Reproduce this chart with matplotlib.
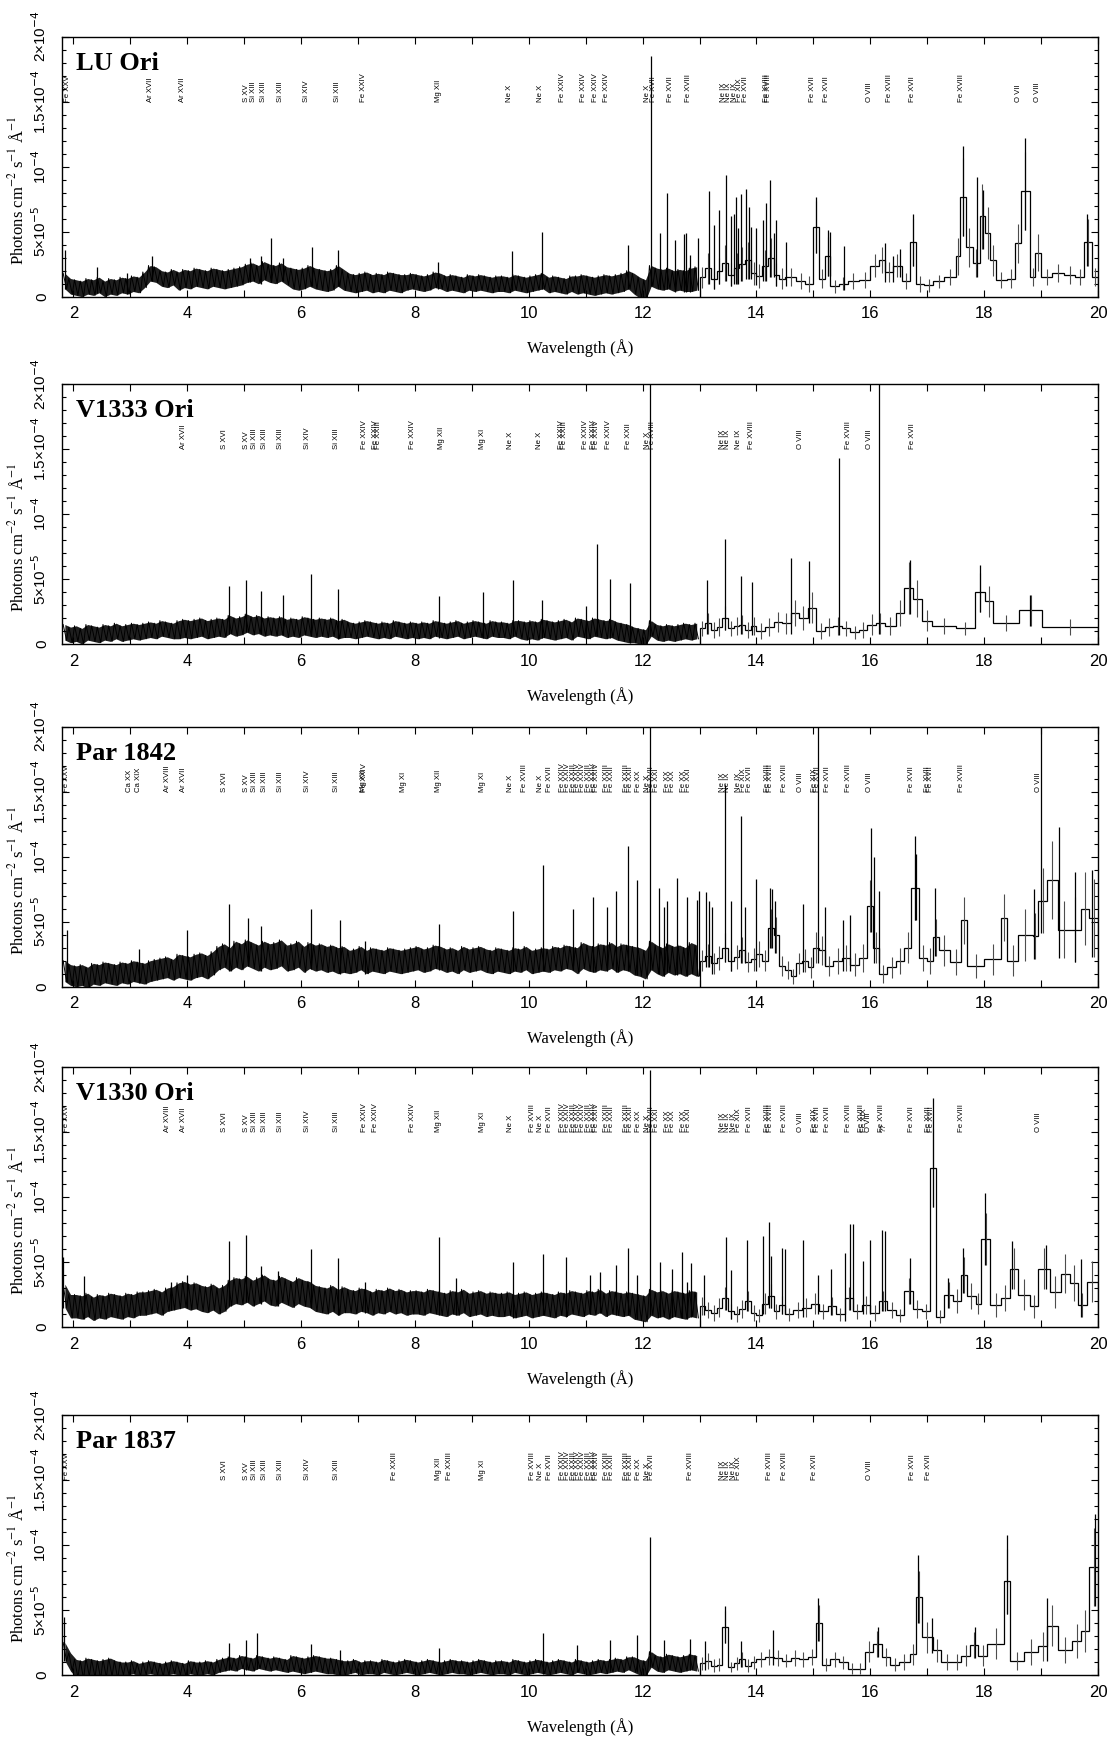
import numpy as np
import matplotlib
matplotlib.use('Agg')
import matplotlib.pyplot as plt
from matplotlib.ticker import MultipleLocator, FixedLocator, FixedFormatter

# ---------------------------------------------------------------
# spectra, flux in units of 1e-6 photons cm-2 s-1 A-1
# dense part: 0.1 A bins from 1.8 to 13.0 A (112 bins)
# err given per 1 A segment of the dense part
# wide part: variable bins from 13.0 to 20.0 A
# ---------------------------------------------------------------
dense_edges = np.round(np.arange(1.8, 13.05, 0.1), 2)

# LU Ori
lu_dense = [12, 8,
            7, 6, 8, 7, 9, 6, 8, 7, 9, 8, 10, 9,
            13, 18, 17,
            14, 13, 15, 12, 14, 13, 15, 14, 13, 15, 14, 13, 14, 15, 16,
            18, 19, 17, 20, 18, 17, 19, 16,
            14, 13, 14,
            16, 14,
            13, 12, 13,
            16, 13,
            11, 10, 11, 12, 10, 11, 10, 12, 11, 10, 11, 12, 11, 10, 11,
            13, 12,
            10, 11, 10, 9, 11, 10, 11, 10, 9, 10,
            10, 9, 11, 10, 9, 10, 11, 12,
            9, 10, 9, 8, 10, 9, 10, 9, 8, 9, 10, 9, 10, 11,
            13, 10, 7,
            5, 16, 14, 13, 14, 12, 13, 12, 13, 14]
lu_dense_err = [6, 6, 7, 7, 8, 7, 6, 6, 6, 7, 8, 9]
lu_edges = [13.0, 13.1, 13.2, 13.3, 13.4, 13.5, 13.6, 13.7, 13.8, 13.9,
            14.0, 14.1, 14.2, 14.3, 14.4, 14.5, 14.7, 14.85,
            15.0, 15.1, 15.2, 15.3, 15.45, 15.6, 15.8,
            16.0, 16.15, 16.25, 16.4, 16.55, 16.7, 16.8, 16.95,
            17.1, 17.3, 17.5, 17.58, 17.68, 17.8, 17.92,
            18.02, 18.1, 18.2, 18.4, 18.55, 18.65, 18.8, 18.9,
            19.0, 19.2, 19.4, 19.6, 19.75, 19.9, 20.0]
lu_flux = [15, 22, 14, 20, 26, 17, 22, 25, 28, 18,
           16, 24, 30, 17, 14, 15, 12, 10,
           54, 14, 31, 8, 10, 12, 13,
           24, 28, 19, 24, 12, 42, 10, 9,
           12, 15, 31, 77, 38, 26, 62,
           49, 28, 13, 14, 41, 81, 15, 34,
           15, 18, 17, 15, 42, 15]
lu_err = [8, 12, 8, 10, 14, 9, 12, 13, 14, 9,
          9, 12, 15, 9, 8, 7, 6, 6,
          20, 7, 15, 5, 5, 6, 6,
          9, 10, 8, 9, 6, 18, 6, 5,
          5, 6, 14, 30, 15, 11, 25,
          20, 12, 6, 7, 15, 30, 7, 14,
          6, 7, 7, 6, 18, 7]
lu_spikes = [(1.86, 36), (2.41, 23), (2.95, 18), (3.38, 31), (5.1, 30),
             (5.3, 31), (5.47, 45), (5.68, 30), (6.19, 38), (6.65, 36),
             (8.41, 27), (9.71, 35), (10.24, 50), (11.74, 40), (12.15, 185),
             (12.3, 49), (12.42, 80), (12.57, 44), (12.72, 48), (12.76, 49),
             (12.84, 32), (12.97, 45), (13.17, 81), (13.26, 55), (13.35, 67),
             (13.46, 94), (13.55, 62), (13.61, 64), (13.64, 77), (13.68, 53),
             (13.73, 79), (13.82, 83), (13.87, 69), (13.9, 54), (14.0, 53),
             (14.12, 59), (14.16, 72), (14.23, 90), (14.3, 49), (14.35, 59),
             (14.52, 42), (15.05, 77), (15.25, 51), (15.3, 50), (15.53, 39),
             (16.26, 41), (16.4, 31), (16.52, 37), (16.75, 64), (17.62, 116),
             (17.88, 92), (17.98, 82), (18.72, 122), (19.8, 64)]
lu_lines = [(1.9, 'Fe XXV'), (3.35, 'Ar XVII'), (3.92, 'Ar XVII'), (5.04, 'S XV'),
            (5.17, 'Si XIII'), (5.34, 'Si XIII'), (5.64, 'Si XIII'), (6.09, 'Si XIV'),
            (6.64, 'Si XIII'), (7.10, 'Fe XXIV'), (8.41, 'Mg XII'), (9.66, 'Ne X'),
            (10.20, 'Ne X'), (10.59, 'Fe XXIV'), (10.96, 'Fe XXIV'), (11.18, 'Fe XXIV'),
            (11.36, 'Fe XXIV'), (12.09, 'Ne X'), (12.20, 'Fe XVII'), (12.49, 'Fe XVII'),
            (12.80, 'Fe XVIII'), (13.42, 'Ne IX'), (13.50, 'Ne IX'), (13.62, 'Ne IX'),
            (13.70, 'Fe XIX'), (13.80, 'Fe XVII'), (14.18, 'Fe XVIII'), (14.22, 'Fe XVIII'),
            (14.98, 'Fe XVII'), (15.23, 'Fe XVII'), (15.98, 'O VIII'), (16.33, 'Fe XVIII'),
            (16.75, 'Fe XVII'), (17.60, 'Fe XVIII'), (18.60, 'O VII'), (18.93, 'O VIII')]

# V1333 Ori
v1333_dense = [9, 7, 8, 6, 9, 8, 7, 9, 8, 10, 8, 9, 10, 9,
               10, 11, 10, 12, 11, 10, 11, 12, 11, 12, 13, 11, 12,
               13, 12, 15, 13, 14, 16, 14, 15, 13, 14,
               13, 14, 12, 13, 12, 14, 13, 12, 13, 12,
               13, 11, 12, 11, 10, 11, 12, 11, 10, 11, 10, 12, 11, 10, 11, 10, 11, 10,
               12, 11, 10, 11, 12, 10, 11, 12, 11, 10, 12, 11,
               11, 10, 12, 11, 10, 11, 10, 12, 11, 10,
               11, 12, 10, 13, 12, 11, 13, 12, 11, 12, 10, 9, 8, 7, 6,
               5, 12, 9, 8, 9, 8, 9, 10, 9, 10]
v1333_dense_err = [6, 6, 7, 7, 7, 6, 6, 6, 7, 7, 6, 6]
v1333_edges = [13.0, 13.1, 13.2, 13.3, 13.4, 13.5, 13.6, 13.7, 13.8, 13.9,
               14.0, 14.15, 14.3, 14.45, 14.6, 14.75, 14.9,
               15.05, 15.2, 15.35, 15.5, 15.65, 15.8, 15.95,
               16.1, 16.25, 16.45, 16.6, 16.75, 16.9,
               17.08, 17.5, 17.84, 18.02, 18.16, 18.61, 19.02, 20.0]
v1333_flux = [12, 16, 11, 13, 20, 12, 14, 15, 11, 14,
              10, 13, 17, 16, 24, 20, 28,
              10, 13, 14, 12, 9, 11, 15,
              16, 14, 24, 43, 35, 18,
              14, 12, 40, 33, 16, 26, 13]
v1333_err = [6, 8, 6, 7, 9, 6, 7, 7, 6, 7,
             6, 7, 8, 8, 10, 9, 12,
             6, 7, 7, 6, 5, 6, 8,
             8, 7, 10, 20, 14, 8,
             6, 5, 15, 12, 6, 12, 6]
v1333_spikes = [(4.73, 45), (5.04, 49), (5.3, 41), (5.68, 38), (6.18, 54),
                (6.65, 42), (8.42, 37), (9.19, 40), (9.72, 49), (10.24, 34),
                (11.01, 29), (11.19, 77), (11.42, 50), (11.78, 47), (12.13, 210),
                (13.13, 49), (13.45, 81), (13.72, 52), (13.92, 48), (14.6, 66),
                (14.92, 64), (15.45, 143), (16.16, 210), (16.7, 65), (17.93, 61),
                (18.8, 38)]
v1333_lines = [(3.94, 'Ar XVII'), (4.65, 'S XVI'), (5.04, 'S XV'), (5.18, 'Si XIII'),
               (5.36, 'Si XIII'), (5.63, 'Si XIII'), (6.12, 'Si XIV'), (6.63, 'Si XIII'),
               (7.12, 'Fe XXIV'), (7.30, 'Fe XXIV'), (7.36, 'Fe XXIII'), (7.95, 'Fe XXIV'),
               (8.46, 'Mg XII'), (9.19, 'Mg XI'), (9.68, 'Ne X'), (10.19, 'Ne X'),
               (10.58, 'Fe XXIV'), (10.62, 'Fe XXIII'), (10.99, 'Fe XXIV'), (11.13, 'Fe XXIV'),
               (11.19, 'Fe XXIV'), (11.40, 'Fe XXIV'), (11.75, 'Fe XXII'), (12.08, 'Ne X'),
               (12.18, 'Fe XVIII'), (13.40, 'Ne IX'), (13.49, 'Ne IX'), (13.69, 'Ne IX'),
               (13.92, 'Fe XVIII'), (14.78, 'O VIII'), (15.61, 'Fe XVIII'), (15.99, 'O VIII'),
               (16.75, 'Fe XVII')]

# lines shared by the three hotter spectra
fe_l_group = [(10.60, 'Fe XXIV'), (10.68, 'Fe XXIV'), (10.78, 'Fe XXIII'), (10.86, 'Fe XXIV'),
              (10.95, 'Fe XXIV'), (11.05, 'Fe XXIII'), (11.13, 'Fe XXIV'), (11.19, 'Fe XXIV'),
              (11.37, 'Fe XXIII'), (11.45, 'Fe XXII'), (11.72, 'Fe XXIII'), (11.78, 'Fe XXII'),
              (11.92, 'Fe XX'), (12.08, 'Ne X'), (12.15, 'Fe XVII')]
fe_l_group2 = [(12.25, 'Fe XXI'), (12.43, 'Fe XX'), (12.52, 'Fe XX'), (12.72, 'Fe XX'),
               (12.80, 'Fe XXI')]

# Par 1842
p1842_dense = [12, 9,
               8, 9, 7, 10, 9, 11, 10, 9, 11, 10, 12, 11, 10, 12, 13,
               14, 15, 13, 16, 15, 14, 16, 17, 15, 18,
               22, 24, 21, 25, 23, 26, 24, 22, 25, 23, 24, 26, 22, 23, 25, 21, 24, 22, 23, 21,
               22, 20, 21, 19, 20, 22, 19, 21, 20, 19, 21, 20, 19, 20, 21,
               22, 20, 21, 23, 22, 20, 21, 19, 22, 20, 21, 22, 20, 19, 21,
               20, 19, 21, 20, 22, 19, 20, 21, 20, 22,
               21, 23, 22, 20, 24, 22, 21, 23, 22, 24, 21, 23, 22, 20, 19,
               17, 24, 21, 19, 22, 20, 21, 19, 22, 20]
p1842_dense_err = [8, 8, 9, 10, 10, 9, 9, 9, 9, 10, 11, 12]
p1842_edges = [13.0, 13.1, 13.2, 13.3, 13.4, 13.5, 13.6, 13.7, 13.8, 13.9,
               14.0, 14.1, 14.2, 14.3, 14.4, 14.5, 14.6, 14.7, 14.8, 14.9,
               15.0, 15.1, 15.2, 15.35, 15.5, 15.65, 15.8,
               15.95, 16.05, 16.15, 16.3, 16.45, 16.6, 16.72, 16.85,
               17.0, 17.1, 17.2, 17.4, 17.6, 17.7,
               18.0, 18.3, 18.4, 18.6, 18.85, 18.95,
               19.1, 19.3, 19.5, 19.7, 19.85, 20.0]
p1842_flux = [20, 24, 18, 22, 30, 20, 23, 28, 19, 21,
              25, 20, 45, 40, 16, 13, 8, 18, 20, 15,
              30, 28, 16, 20, 22, 17, 22,
              62, 30, 10, 15, 20, 30, 76, 22,
              20, 38, 28, 19, 51, 16,
              21, 53, 20, 40, 39, 66,
              82, 44, 44, 60, 53]
p1842_err = [8, 9, 8, 9, 11, 8, 9, 10, 8, 9,
             10, 8, 15, 14, 8, 7, 6, 8, 9, 8,
             12, 11, 8, 10, 10, 9, 11,
             20, 12, 7, 8, 10, 12, 25, 10,
             10, 14, 12, 10, 18, 9,
             12, 18, 12, 20, 18, 25,
             30, 22, 25, 28, 30]
p1842_spikes = [(1.88, 44), (3.15, 29), (4.0, 44), (4.73, 64), (5.06, 53),
                (5.3, 47), (6.18, 60), (6.69, 51), (7.12, 35), (8.42, 48),
                (9.72, 58), (10.25, 94), (10.78, 60), (11.13, 69), (11.37, 61),
                (11.54, 74), (11.75, 108), (11.9, 82), (12.13, 210), (12.28, 76),
                (12.38, 61), (12.43, 66), (12.6, 84), (12.78, 69), (12.95, 67),
                (12.99, 74), (13.12, 73), (13.17, 66), (13.22, 61), (13.45, 155),
                (13.55, 66), (13.72, 131), (13.8, 61), (14.0, 83), (14.23, 76),
                (14.28, 75), (14.33, 66), (14.82, 64), (15.08, 210), (15.2, 61),
                (15.52, 51), (15.65, 55), (16.02, 122), (16.07, 100), (16.15, 74),
                (16.78, 116), (16.8, 102), (17.14, 76), (18.87, 75), (18.99, 210),
                (19.32, 123), (19.6, 88), (19.9, 90)]
p1842_lines = ([(1.88, 'Fe XXV'), (2.98, 'Ca XX'), (3.14, 'Ca XIX'), (3.65, 'Ar XVIII'),
                (3.94, 'Ar XVII'), (4.65, 'S XVI'), (5.04, 'S XV'), (5.18, 'Si XIII'),
                (5.36, 'Si XIII'), (5.63, 'Si XIII'), (6.12, 'Si XIV'), (6.63, 'Si XIII'),
                (7.09, 'Mg XII'), (7.12, 'Fe XXIV'), (7.80, 'Mg XI'), (8.42, 'Mg XII'),
                (9.19, 'Mg XI'), (9.68, 'Ne X'), (9.93, 'Fe XVIII'), (10.21, 'Ne X'),
                (10.36, 'Fe XVII')] + fe_l_group + fe_l_group2 +
               [(13.40, 'Ne IX'), (13.49, 'Ne IX'), (13.69, 'Ne IX'), (13.78, 'Fe XIX'),
                (13.88, 'Fe XVII'), (14.19, 'Fe XVIII'), (14.25, 'Fe XVIII'), (14.49, 'Fe XVIII'),
                (14.78, 'O VIII'), (15.02, 'Fe XIX'), (15.08, 'Fe XVII'), (15.25, 'Fe XVII'),
                (15.61, 'Fe XVIII'), (15.99, 'O VIII'), (16.73, 'Fe XVII'), (17.00, 'Fe XVII'),
                (17.05, 'Fe XVII'), (17.61, 'Fe XVIII'), (18.96, 'O VIII')])

# V1330 Ori
v1330_dense = [24, 16,
               16, 15, 17, 14, 16, 15, 17, 16, 15, 17, 16, 18,
               18, 19, 20, 18, 21, 22, 24, 25, 23, 24,
               22, 21, 23, 20, 22,
               26, 28, 27, 29, 26, 28, 30, 27, 26, 29, 27, 25, 28, 26, 25,
               22, 21, 20, 22, 19, 21, 20, 19, 21, 20, 18, 20, 19, 21, 19, 20, 18, 19,
               19, 18, 20, 19, 18, 17, 19, 18, 20, 17, 18, 19, 17, 18, 17,
               17, 18, 16, 17, 18, 16, 17, 18, 17, 16,
               18, 17, 19, 18, 17, 19, 18, 20, 17, 19, 18, 17, 18, 16, 15,
               14, 19, 17, 18, 16, 18, 17, 16, 18, 17]
v1330_dense_err = [9, 9, 10, 10, 10, 9, 9, 9, 9, 9, 10, 10]
v1330_edges = [13.0, 13.1, 13.2, 13.3, 13.4, 13.5, 13.6, 13.7, 13.8, 13.9,
               14.0, 14.1, 14.2, 14.3, 14.4, 14.5, 14.65, 14.8,
               14.95, 15.1, 15.25, 15.4, 15.55, 15.7, 15.85,
               16.0, 16.15, 16.3, 16.45, 16.6, 16.75, 16.9,
               17.05, 17.15, 17.3, 17.45, 17.6, 17.7, 17.85, 17.95,
               18.1, 18.3, 18.45, 18.6, 18.8, 18.95,
               19.15, 19.35, 19.5, 19.65, 19.8, 20.0]
v1330_flux = [16, 13, 11, 15, 22, 12, 10, 14, 20, 11,
              9, 18, 24, 12, 17, 10, 13, 15,
              18, 12, 16, 10, 22, 12, 17,
              11, 20, 13, 9, 28, 14, 12,
              122, 8, 25, 20, 40, 24, 18, 68,
              17, 22, 45, 25, 16, 45,
              27, 41, 34, 17, 35]
v1330_err = [7, 6, 6, 7, 9, 6, 6, 7, 8, 6,
             5, 8, 9, 6, 7, 5, 6, 7,
             8, 6, 7, 5, 9, 6, 7,
             6, 8, 6, 5, 10, 7, 6,
             30, 5, 10, 9, 14, 10, 8, 20,
             9, 10, 16, 12, 9, 16,
             12, 15, 14, 9, 16]
v1330_spikes = [(1.82, 54), (2.18, 39), (3.71, 35), (4.0, 40), (4.73, 66),
                (5.04, 71), (5.3, 47), (5.6, 43), (6.18, 60), (6.65, 53),
                (7.12, 35), (8.42, 69), (8.72, 38), (9.72, 50), (10.25, 56),
                (10.66, 54), (11.07, 40), (11.25, 42), (11.54, 48), (11.75, 61),
                (11.9, 40), (12.13, 198), (12.31, 50), (12.51, 45), (12.7, 58),
                (12.78, 35), (12.85, 49), (13.07, 40), (13.46, 69), (13.55, 44),
                (13.84, 67), (14.11, 70), (14.22, 81), (14.25, 55), (14.45, 61),
                (14.5, 60), (14.82, 67), (15.08, 40), (15.31, 45), (15.55, 57),
                (15.64, 79), (15.7, 79), (15.88, 51), (16.0, 67), (16.2, 75),
                (16.25, 74), (16.7, 53), (17.1, 176), (17.37, 38), (17.63, 61),
                (18.02, 103), (18.49, 66), (19.08, 63), (19.7, 52)]
v1330_lines = ([(1.88, 'Fe XXV'), (3.65, 'Ar XVIII'), (3.94, 'Ar XVII'), (4.65, 'S XVI'),
                (5.04, 'S XV'), (5.18, 'Si XIII'), (5.36, 'Si XIII'), (5.63, 'Si XIII'),
                (6.12, 'Si XIV'), (6.63, 'Si XIII'), (7.12, 'Fe XXIV'), (7.30, 'Fe XXIV'),
                (7.95, 'Fe XXIV'), (8.42, 'Mg XII'), (9.19, 'Mg XI'), (9.68, 'Ne X'),
                (10.07, 'Fe XVIII'), (10.21, 'Ne X'), (10.36, 'Fe XVII')] + fe_l_group + fe_l_group2 +
               [(13.40, 'Ne IX'), (13.49, 'Ne IX'), (13.60, 'Ne IX'), (13.69, 'Fe XIX'),
                (13.88, 'Fe XVII'), (14.19, 'Fe XVIII'), (14.25, 'Fe XVIII'), (14.49, 'Fe XVIII'),
                (14.78, 'O VIII'), (15.02, 'Fe XIX'), (15.08, 'Fe XVII'), (15.25, 'Fe XVII'),
                (15.61, 'Fe XVIII'), (15.84, 'Fe XVIII'), (15.90, 'Fe XIX'), (15.96, 'O VIII'),
                (16.20, 'Fe XVIII'), (16.25, '??'), (16.73, 'Fe XVII'), (17.02, 'Fe XVII'),
                (17.08, 'Fe XVII'), (17.61, 'Fe XVIII'), (18.96, 'O VIII')])

# Par 1837
p1837_dense = [18, 10,
               5, 4, 6, 5, 4, 5, 6, 4, 5, 5, 6, 4, 5, 6, 5, 4, 5, 6, 5, 4, 6, 5, 5, 6, 5,
               7, 8, 9, 8, 10, 9, 8, 10, 9, 8, 9, 8, 7, 9, 8, 7, 8, 9, 8, 7,
               7, 6, 5, 6, 7, 5, 6, 6, 5, 7, 6, 5, 6, 7, 6, 5, 6, 7, 6, 5, 6, 7, 6, 6, 5, 6, 7, 6, 5, 6,
               6, 5, 7, 6, 5, 6, 7, 6, 5, 6, 7, 6, 5, 7, 6, 5, 6, 7, 6, 7,
               8, 7, 9, 8, 6,
               5, 12, 9, 8, 10, 9, 8, 9, 10, 9]
p1837_dense_err = [7, 5, 5, 5, 6, 5, 5, 5, 5, 5, 6, 6]
p1837_edges = [13.0, 13.1, 13.2, 13.3, 13.4, 13.5, 13.6, 13.7, 13.8, 13.9,
               14.0, 14.15, 14.3, 14.45, 14.6, 14.75, 14.9,
               15.05, 15.15, 15.3, 15.45, 15.6, 15.75, 15.9,
               16.05, 16.2, 16.35, 16.5, 16.7, 16.8, 16.9,
               17.1, 17.25, 17.45, 17.6, 17.75, 17.9,
               18.05, 18.35, 18.45, 18.7, 18.95,
               19.1, 19.3, 19.55, 19.7, 19.85, 20.0]
p1837_flux = [9, 11, 7, 8, 37, 6, 9, 12, 7, 10,
              12, 14, 13, 11, 13, 12, 14,
              40, 8, 12, 10, 5, 5, 18,
              24, 14, 8, 10, 16, 60, 29,
              19, 10, 10, 15, 23, 15,
              24, 72, 11, 18, 22,
              38, 19, 26, 34, 83]
p1837_err = [5, 6, 5, 5, 12, 4, 5, 6, 5, 5,
             6, 6, 6, 5, 6, 6, 6,
             14, 5, 6, 5, 4, 4, 8,
             10, 7, 5, 6, 8, 20, 12,
             9, 6, 6, 8, 10, 8,
             12, 25, 7, 10, 11,
             16, 10, 13, 16, 30]
p1837_spikes = [(1.83, 45), (4.73, 25), (5.04, 27), (5.22, 32), (6.18, 24),
                (6.69, 19), (8.42, 21), (10.25, 32), (10.84, 23), (11.42, 27),
                (11.9, 31), (12.13, 106), (12.37, 27), (12.84, 28), (13.1, 26),
                (13.45, 53), (13.72, 26), (14.29, 35), (15.08, 59), (16.14, 37),
                (16.84, 92), (17.08, 44), (17.84, 37), (18.4, 108), (19.1, 59),
                (19.95, 124)]
p1837_lines = ([(1.88, 'Fe XXV'), (4.65, 'S XVI'), (5.04, 'S XV'), (5.18, 'Si XIII'),
                (5.36, 'Si XIII'), (5.63, 'Si XIII'), (6.12, 'Si XIV'), (6.63, 'Si XIII'),
                (7.65, 'Fe XXIII'), (8.42, 'Mg XII'), (8.60, 'Fe XXIII'), (9.19, 'Mg XI'),
                (10.07, 'Fe XVIII'), (10.21, 'Ne X'), (10.36, 'Fe XVII')] + fe_l_group +
               [(12.84, 'Fe XVIII'), (13.40, 'Ne IX'), (13.49, 'Ne IX'), (13.60, 'Ne IX'),
                (13.69, 'Fe XIX'), (14.23, 'Fe XVIII'), (14.49, 'Fe XVIII'), (15.02, 'Fe XVII'),
                (15.99, 'O VIII'), (16.75, 'Fe XVII'), (17.02, 'Fe XVII')])

names = ['LU Ori', 'V1333 Ori', 'Par 1842', 'V1330 Ori', 'Par 1837']
panels = [
    (lu_dense, lu_dense_err, lu_edges, lu_flux, lu_err, lu_spikes, lu_lines),
    (v1333_dense, v1333_dense_err, v1333_edges, v1333_flux, v1333_err, v1333_spikes, v1333_lines),
    (p1842_dense, p1842_dense_err, p1842_edges, p1842_flux, p1842_err, p1842_spikes, p1842_lines),
    (v1330_dense, v1330_dense_err, v1330_edges, v1330_flux, v1330_err, v1330_spikes, v1330_lines),
    (p1837_dense, p1837_dense_err, p1837_edges, p1837_flux, p1837_err, p1837_spikes, p1837_lines),
]

ytick_vals = [0, 5e-5, 1e-4, 1.5e-4, 2e-4]
ytick_labels = ['0', '5×10$^{-5}$', '10$^{-4}$', '1.5×10$^{-4}$', '2×10$^{-4}$']

plt.rcParams['font.family'] = ['Liberation Sans', 'DejaVu Sans']
plt.rcParams['axes.linewidth'] = 1.0

W, H = 1107, 1739
fig = plt.figure(figsize=(W / 100, H / 100), dpi=100)

# panel tops in pixels
tops = [36.7, 384, 726.7, 1067, 1415]
ax_left, ax_right, ax_h = 62, 1098, 260

dense_lo = dense_edges[:-1]
dense_cen = dense_lo + 0.05
seg_idx = np.floor(dense_cen - 1.8 + 1e-9).astype(int)

for name, top, (dense, dense_err, edges, flux, err, spikes, lines) in zip(names, tops, panels):
    ax = fig.add_axes([ax_left / W, 1 - (top + ax_h) / H,
                       (ax_right - ax_left) / W, ax_h / H])

    # dense (well sampled) part: the +-1 sigma band, with each bin also
    # drawn as a stroke from flux+err to flux-err
    d = np.array(dense) * 1e-6
    de = np.array(dense_err)[seg_idx] * 1e-6
    ax.fill_between(dense_cen, d - de, d + de, color='0.12', lw=0)
    zx = np.column_stack([dense_lo + 0.02, dense_lo + 0.08]).ravel()
    zy = np.column_stack([d + de, d - de]).ravel()
    ax.plot(zx, zy, color='k', lw=0.7)

    # coarser bins at long wavelength with error bars
    e = np.array(edges)
    f = np.array(flux) * 1e-6
    fe = np.array(err) * 1e-6
    cen = 0.5 * (e[:-1] + e[1:])
    ax.vlines(cen, f - fe, f + fe, color='0.3', lw=0.8)
    ax.stairs(f, e, color='k', lw=0.9)

    # narrow emission features, drawn up from the local lower level
    sw = np.array([s[0] for s in spikes])
    sh = np.array([s[1] for s in spikes]) * 1e-6
    base = np.where(
        sw < 13.0,
        (d - de)[np.clip(np.searchsorted(dense_edges, sw) - 1, 0, len(d) - 1)],
        (f - fe)[np.clip(np.searchsorted(e, sw) - 1, 0, len(f) - 1)])
    ax.vlines(sw, base, sh, color='k', lw=0.9)

    # line identifications
    for wl, lab in lines:
        ax.text(wl, 1.5e-4, lab, rotation=90, ha='center', va='bottom',
                fontsize=5.6, family='Liberation Sans')

    ax.text(0.0135, 0.873, name, transform=ax.transAxes, ha='left',
            va='baseline', fontsize=19, fontweight='bold',
            family='Liberation Serif')

    ax.set_xlim(1.8, 20)
    ax.set_ylim(0, 2e-4)
    ax.xaxis.set_major_locator(MultipleLocator(2))
    ax.xaxis.set_minor_locator(MultipleLocator(1))
    ax.yaxis.set_major_locator(FixedLocator(ytick_vals))
    ax.yaxis.set_major_formatter(FixedFormatter(ytick_labels))
    ax.yaxis.set_minor_locator(MultipleLocator(1e-5))
    ax.tick_params(which='both', direction='in', top=True, right=True, width=0.8)
    ax.tick_params(which='major', length=5)
    ax.tick_params(axis='y', which='minor', length=3)
    ax.tick_params(axis='x', which='minor', length=5)
    ax.tick_params(axis='x', labelsize=12, pad=7)
    ax.tick_params(axis='y', labelsize=11, pad=9, labelrotation=90)
    for lab in ax.get_yticklabels():
        lab.set_verticalalignment('center')

    ax.set_xlabel('Wavelength (Å)', fontsize=12, family='Liberation Serif')
    ax.xaxis.set_label_coords(0.5, -0.165)
    ax.set_ylabel('Photons cm$^{-2}$ s$^{-1}$ Å$^{-1}$', fontsize=12,
                  family='Liberation Serif', math_fontfamily='stix')
    ax.yaxis.set_label_coords(-0.033, 0.41)

fig.savefig('out.png', dpi=100)
